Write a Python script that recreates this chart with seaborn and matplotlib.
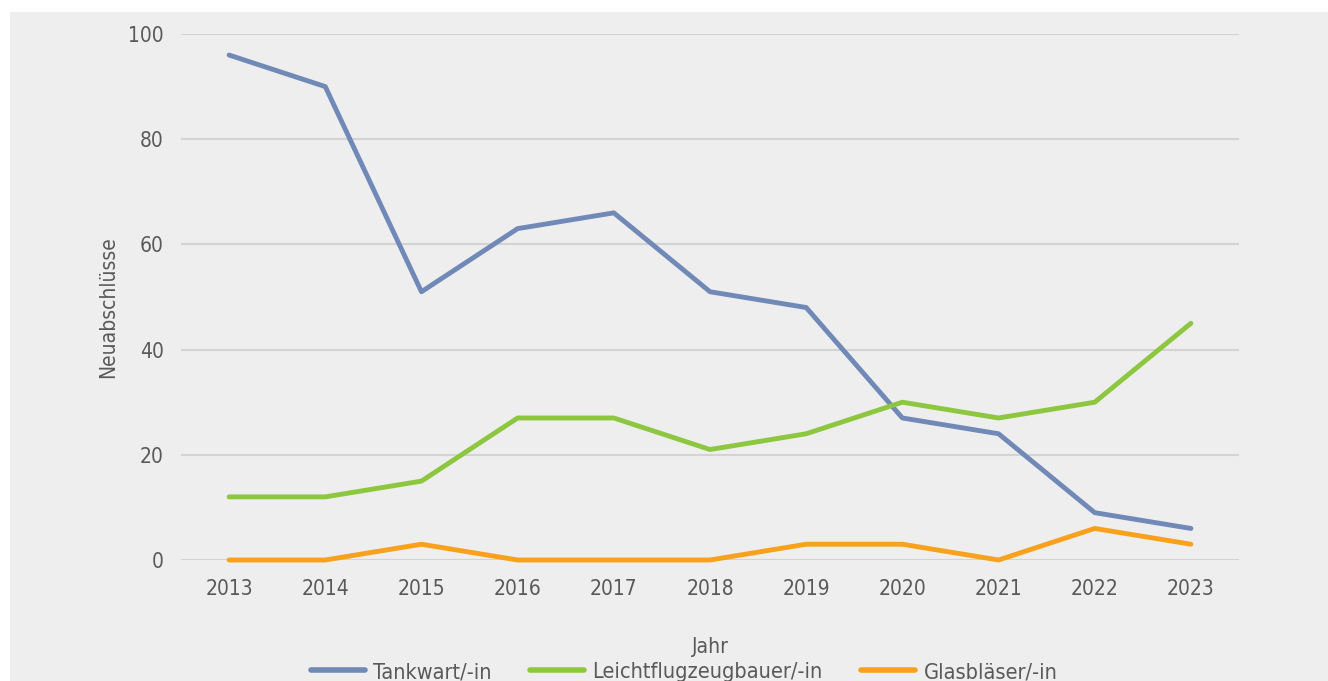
import matplotlib
matplotlib.use("Agg")
import matplotlib.pyplot as plt
from matplotlib import font_manager
from matplotlib.patches import Rectangle
import seaborn as sns
import pandas as pd

years = [2013, 2014, 2015, 2016, 2017, 2018, 2019, 2020, 2021, 2022, 2023]
tankwart = [96, 90, 51, 63, 66, 51, 48, 27, 24, 9, 6]
leichtflug = [12, 12, 15, 27, 27, 21, 24, 30, 27, 30, 45]
glasblaeser = [0, 0, 3, 0, 0, 0, 3, 3, 0, 6, 3]
series_names = ["Tankwart/-in", "Leichtflugzeugbauer/-in", "Glasbläser/-in"]
colors = ["#7189b7", "#8dc63f", "#f7a11c"]
yticks = [0, 20, 40, 60, 80, 100]

df = pd.DataFrame({
    "Jahr": years * 3,
    "Neuabschlüsse": tankwart + leichtflug + glasblaeser,
    "Beruf": [series_names[0]] * len(years) + [series_names[1]] * len(years) + [series_names[2]] * len(years),
})

sns.set_theme(style="white")

# pick a condensed font of regular-ish weight if one is installed
def wnum(w):
    if isinstance(w, (int, float)):
        return w
    return font_manager.weight_dict.get(str(w).lower(), 400)

best = None
for f in font_manager.fontManager.ttflist:
    cond = ("condensed" in str(f.stretch).lower() or "narrow" in f.name.lower()
            or "condensed" in f.name.lower() or "cond" in f.fname.lower())
    if cond and f.style == "normal":
        score = abs(wnum(f.weight) - 380)
        if best is None or score < best[0]:
            best = (score, f)

if best is not None and best[0] <= 100:
    f = best[1]
    plt.rcParams["font.family"] = [f.name, "DejaVu Sans"]
    plt.rcParams["font.weight"] = f.weight
    plt.rcParams["font.stretch"] = f.stretch
    fs = 15
    fs_leg = 15.6
else:
    plt.rcParams["font.family"] = ["Open Sans", "DejaVu Sans"]
    fs = 13
    fs_leg = 13
txt = "#595959"

fig = plt.figure(figsize=(13.28, 6.81), dpi=100)
fig.patch.set_facecolor("white")
fig.patches.append(Rectangle((10 / 1328, 0), 1, 1 - 12 / 681, transform=fig.transFigure,
                             facecolor="#eeeeee", edgecolor="none", zorder=-10))
ax = fig.add_axes([181 / 1328, 1 - 560 / 681, (1239 - 181) / 1328, (560 - 34) / 681])
ax.set_facecolor("none")

sns.lineplot(data=df, x="Jahr", y="Neuabschlüsse", hue="Beruf", palette=colors,
             hue_order=series_names, linewidth=3.5, ax=ax, legend=True)
for ln in ax.get_lines():
    ln.set_solid_capstyle("round")
    ln.set_solid_joinstyle("round")
    ln.set_clip_on(False)

ax.set_xlim(years[0] - 0.5, years[-1] + 0.5)
ax.set_ylim(0, 100)
ax.set_yticks(yticks)
ax.set_xticks(years)
ax.set_xticklabels([str(y) for y in years])
ax.grid(axis="y", color="#d3d3d3", linewidth=1.5)
ax.set_axisbelow(True)
for s in ax.spines.values():
    s.set_visible(False)
ax.tick_params(axis="both", length=0, labelsize=fs, colors=txt)
ax.tick_params(axis="y", pad=12.5)
ax.tick_params(axis="x", pad=14)
ax.set_xlabel("Jahr", fontsize=fs, color=txt)
ax.set_ylabel("Neuabschlüsse", fontsize=fs, color=txt)
ax.xaxis.set_label_coords(0.5, -0.146)
ax.yaxis.set_label_coords(-0.0595, 0.481)

handles, labels = ax.get_legend_handles_labels()
ax.get_legend().remove()
leg = fig.legend(handles, labels, loc="center", bbox_to_anchor=(684 / 1328, 1 - 672 / 681),
                 ncol=3, frameon=False, fontsize=fs_leg, handlelength=2.5, handletextpad=0.4,
                 columnspacing=1.75, labelcolor=txt, borderpad=0)
for h in leg.legend_handles:
    h.set_linewidth(4)
    h.set_solid_capstyle("round")

fig.savefig("out.png", dpi=100, facecolor="white")
